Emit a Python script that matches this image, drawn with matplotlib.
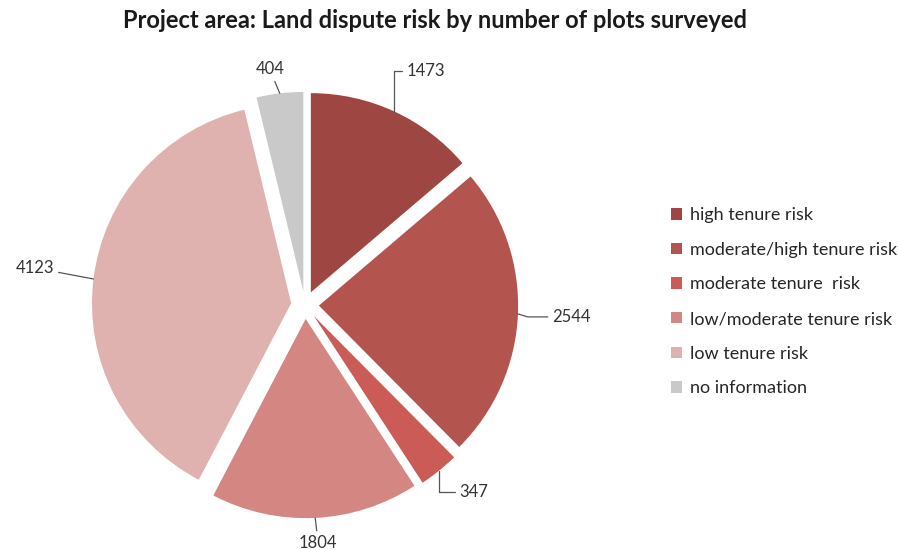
import matplotlib
matplotlib.use("Agg")
import matplotlib.pyplot as plt
from matplotlib.patches import Patch
import numpy as np

# ---------------------------------------------------------------------------
# Data
# ---------------------------------------------------------------------------
categories = [
    "high tenure risk",
    "moderate/high tenure risk",
    "moderate tenure  risk",
    "low/moderate tenure risk",
    "low tenure risk",
    "no information",
]
plots = [1473, 2544, 347, 1804, 4123, 404]
colors = ["#9E4641", "#B4544F", "#CB5B57", "#D48683", "#DFB1AF", "#C9C9C9"]

title = "Project area: Land dispute risk by number of plots surveyed"

plt.rcParams["font.family"] = ["Lato", "DejaVu Sans"]

W, H = 898, 550
fig = plt.figure(figsize=(W / 100, H / 100), dpi=100)

# pie axes: centre of the pie ~ (305, 305) px from top-left
ax = fig.add_axes([0, 0, 610 / W, 490 / H])
wedges, _ = ax.pie(
    plots, colors=colors, startangle=90, counterclock=False,
    explode=[0.07] * len(plots), radius=1.0,
    wedgeprops={"linewidth": 0},
)
ax.set_xlim(-1.53, 1.53)
ax.set_ylim(-1.23, 1.23)
ax.set_aspect("equal")
ax.axis("off")

# value labels with leader lines: (dx, dy) offset in pixels, alignment, connector
label_style = [
    ((12, 41), "left", "angle,angleA=0,angleB=90,rad=0"),
    ((34, -3), "left", "angle,angleA=0,angleB=-17,rad=0"),
    ((20, -21), "left", "angle,angleA=0,angleB=90,rad=0"),
    ((3, -25), "center", "arc3"),
    ((-39, 11), "right", "arc3"),
    ((-10, 24), "center", "arc3"),
]

for w, v, (off, ha, conn) in zip(wedges, plots, label_style):
    mid = np.deg2rad((w.theta1 + w.theta2) / 2)
    cx, cy = w.center
    xy = (cx + w.r * np.cos(mid), cy + w.r * np.sin(mid))
    ax.annotate(
        f"{v}", xy=xy, xytext=off, textcoords="offset pixels",
        ha=ha, va="center", fontsize=12, color="#333333",
        arrowprops=dict(arrowstyle="-", color="#555555", lw=0.9,
                        connectionstyle=conn, shrinkA=1, shrinkB=0),
        annotation_clip=False,
    )

fig.text(435 / W, 1 - 21 / H, title, ha="center", va="center",
         fontsize=17, fontweight="bold", color="#1a1a1a")

handles = [Patch(facecolor=c, edgecolor="none") for c in colors]
fig.legend(
    handles, categories, loc="upper left",
    bbox_to_anchor=(655 / W, 1 - 191 / H), frameon=False,
    fontsize=13, handlelength=0.6, handleheight=0.6,
    handletextpad=0.45, labelspacing=1.03, labelcolor="#262626",
)

fig.savefig("out.png", dpi=100, facecolor="white")
